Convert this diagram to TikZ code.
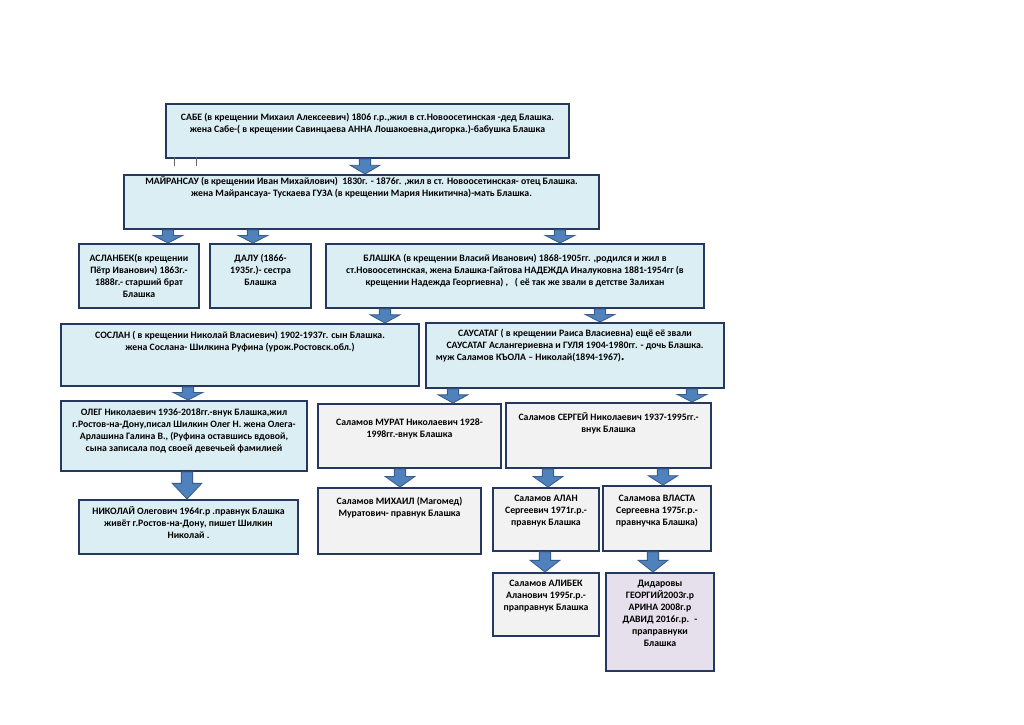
\documentclass[tikz,border=0pt]{standalone}
\usepackage{fontspec}
\setmainfont{Carlito}
\usetikzlibrary{calc}
\definecolor{mblue}{RGB}{219, 238, 244}
\definecolor{mgray}{RGB}{242, 242, 242}
\definecolor{mlilac}{RGB}{229, 224, 236}
\definecolor{mnavy}{RGB}{36, 56, 96}
\definecolor{marrow}{RGB}{79, 129, 189}
\definecolor{marrowline}{RGB}{56, 93, 138}
\tikzset{fam/.style = {draw = mnavy, line width = 1.4pt, fill = mblue, anchor = north west,
                       inner xsep = 4pt, inner ysep = 0, font = \fontsize{6.95}{8.5}\selectfont\bfseries}}
\tikzset{famgray/.style = {fam, fill = mgray}}
\tikzset{famlilac/.style = {fam, fill = mlilac}}
\tikzset{blk/.style = {draw = marrowline, fill = marrow, line width = 0.6pt, line join = miter}}
\tikzset{tick/.style = {draw = black!60, line width = 0.5pt}}
% box text: [top space]{width px}{height px}{text}
\newcommand{\cell}[4][4pt]{\parbox[c][\dimexpr 0.025cm*#3\relax][t]{\dimexpr 0.025cm*#2-8pt\relax}{\vspace*{#1}\centering\strut #4\par}}
% block arrow: {x px}{from}{to}
\newcommand{\blockarrow}[3]{%
  \draw [blk] let \p1 = (#1, 0), \p2 = (#2.south), \p3 = (#3.north), \p4 = ($(#2.south)!0.42!(#3.north)$) in
    (\x1 - 4pt, \y2) -- (\x1 + 4pt, \y2) -- (\x1 + 4pt, \y4) -- (\x1 + 10.5pt, \y4) -- (\x1, \y3)
    -- (\x1 - 10.5pt, \y4) -- (\x1 - 4pt, \y4) -- cycle;}

\begin{document}
\begin{tikzpicture}[x = 0.025cm, y = -0.025cm]

       \useasboundingbox [fill = white] (0, 0) rectangle (1024, 724);

       \node [fam] (sabe) at (165, 103) {\cell[6.1pt]{403}{54}{САБЕ (в крещении Михаил Алексеевич) 1806 г.р.,жил в ст.Новоосетинская -дед Блашка.\\жена Сабе-( в крещении Савинцаева АННА Лошакоевна,дигорка.)-бабушка Блашка}};
       \draw [tick] (174, 157) -- (174, 166);
       \draw [tick] (196, 157) -- (196, 166);

       \node [fam] (mair) at (123, 174) {\cell[1.1pt]{475}{54}{МАЙРАНСАУ (в крещении Иван Михайлович)~ 1830г. - 1876г. ,жил в ст. Новоосетинская- отец Блашка.\\жена Майрансауа- Тускаева ГУЗА (в крещении Мария Никитична)-мать Блашка.}};

       \node [fam] (aslan) at (78, 243) {\cell[6.8pt]{120}{64}{АСЛАНБЕК(в крещении\\Пётр Иванович) 1863г.-\\1888г.- старший брат\\Блашка}};
       \node [fam] (dalu) at (209, 243) {\cell[6.8pt]{101}{64}{ДАЛУ (1866-\\1935г.)- сестра\\Блашка}};
       \node [fam] (blashka) at (325, 243) {\cell[6.8pt]{378}{64}{БЛАШКА (в крещении Власий Иванович) 1868-1905гг. ,родился и жил в\\ст.Новоосетинская, жена Блашка-Гайтова НАДЕЖДА Иналуковна 1881-1954гг (в\\крещении Надежда Георгиевна) ,~~ ( её так же звали в детстве Залихан}};

       \node [fam] (soslan) at (60, 323) {\cell[4.7pt]{358}{62}{СОСЛАН ( в крещении Николай Власиевич) 1902-1937г. сын Блашка.\\жена Сослана- Шилкина Руфина (урож.Ростовск.обл.)}};
       \node [fam] (sausatag) at (425, 322) {\cell[4pt]{298}{65}{САУСАТАГ ( в крещении Раиса Власиевна) ещё её звали\\САУСАТАГ Аслангериевна и ГУЛЯ 1904-1980гг. - дочь Блашка.\par
         \raggedright\hspace*{3pt}муж Саламов КЪОЛА – Николай(1894-1967){\fontsize{10}{8.5}\selectfont.}}};

       \node [fam] (oleg) at (60, 400) {\cell[4.7pt]{246}{70}{ОЛЕГ Николаевич 1936-2018гг.-внук Блашка,жил\\г.Ростов-на-Дону,писал Шилкин Олег Н. жена Олега-\\Арлашина Галина В., (Руфина оставшись вдовой,\\сына записала под своей девечьей фамилией}};
       \node [famgray] (murat) at (317, 403) {\cell[9.6pt]{183}{64}{Саламов МУРАТ Николаевич 1928-\\1998гг.-внук Блашка}};
       \node [famgray] (sergey) at (505, 402) {\cell[6.8pt]{205}{65}{Саламов СЕРГЕЙ Николаевич 1937-1995гг.-\\внук Блашка}};

       \node [fam] (nikolai) at (78, 499) {\cell[4.7pt]{219}{54}{НИКОЛАЙ Олегович 1964г.р .правнук Блашка\\живёт г.Ростов-на-Дону, пишет Шилкин\\Николай .}};
       \node [famgray] (mikhail) at (317, 487) {\cell[6.1pt]{163}{66}{Саламов МИХАИЛ (Магомед)\\Муратович- правнук Блашка}};
       \node [famgray] (alan) at (492, 487) {\cell[4pt]{106}{63}{Саламов АЛАН\\Сергеевич 1971г.р.-\\правнук Блашка}};
       \node [famgray] (vlasta) at (602, 485) {\cell[5.4pt]{108}{65}{Саламова ВЛАСТА\\Сергеевна 1975г.р.-\\правнучка Блашка)}};

       \node [famgray] (alibek) at (492, 572) {\cell[4pt]{106}{63}{Саламов АЛИБЕК\\Аланович 1995г.р.-\\праправнук Блашка}};
       \node [famlilac] (didar) at (605, 572) {\cell[4pt]{108}{98}{Дидаровы\\ГЕОРГИЙ2003г.р\\АРИНА 2008г.р\\ДАВИД 2016г.р.~ -\\праправнуки\\Блашка}};

       \blockarrow{365}{sabe}{mair}
       \blockarrow{168}{mair}{aslan}
       \blockarrow{253}{mair}{dalu}
       \blockarrow{560}{mair}{blashka}
       \blockarrow{385}{blashka}{soslan}
       \blockarrow{600}{blashka}{sausatag}
       \blockarrow{188}{soslan}{oleg}
       \blockarrow{453}{sausatag}{murat}
       \blockarrow{692}{sausatag}{sergey}
       \blockarrow{187}{oleg}{nikolai}
       \blockarrow{400}{murat}{mikhail}
       \blockarrow{548}{sergey}{alan}
       \blockarrow{663}{sergey}{vlasta}
       \blockarrow{545}{alan}{alibek}
       \blockarrow{653}{vlasta}{didar}

    \end{tikzpicture}
\end{document}
